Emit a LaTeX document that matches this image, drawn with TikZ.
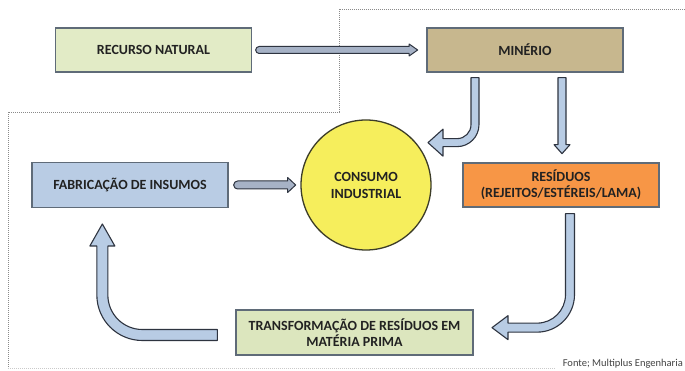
\documentclass[tikz,border=0pt]{standalone}
\usepackage{fontspec}
\setmainfont{Carlito}
\usetikzlibrary{calc}
\definecolor{txt}{HTML}{222222}
\definecolor{boxline}{HTML}{5F6B78}
\definecolor{recfill}{HTML}{E2EBC6}
\definecolor{minfill}{HTML}{C7B78E}
\definecolor{fabfill}{HTML}{B9CCE4}
\definecolor{resfill}{HTML}{F79646}
\definecolor{trafill}{HTML}{DCE6BE}
\definecolor{confill}{HTML}{F6EE5C}
\definecolor{conline}{HTML}{3C3C28}
\definecolor{arrfill}{HTML}{B8CCE4}
\definecolor{arrline}{HTML}{2E3440}
\definecolor{thinfill}{HTML}{A6B2C6}
\definecolor{dotline}{HTML}{8A8A8A}
\tikzset{
  box/.style={draw=boxline, line width=1.3pt, minimum width=196pt, minimum height=44pt,
    inner sep=2pt, align=center, font=\fontsize{14}{16}\selectfont\bfseries, text=txt},
  blk/.style={fill=arrfill, draw=arrline, line width=1.1pt, line join=round},
  thinarr/.style={fill=thinfill, draw=arrline, line width=1pt, line join=round},
  border/.style={draw=dotline, line width=0.9pt, dash pattern=on 1pt off 1pt},
}
\begin{document}
\begin{tikzpicture}[x=1pt,y=-1pt]
\useasboundingbox (0,0) rectangle (685,371);
\fill[white] (0,0) rectangle (685,371);
% dotted frame
\draw[border] (685,9) -- (339,9) -- (339,112) -- (8,112) -- (8,368);
\draw[border, draw=dotline!45] (8,368) -- (555,368);

% nodes
\node[box, fill=recfill] (rec) at (153.5,50) {RECURSO NATURAL};
\node[box, fill=minfill] (min) at (525,50) {MINÉRIO};
\node[box, fill=fabfill, minimum height=45pt] (fab) at (130,185) {FABRICAÇÃO DE INSUMOS};
\node[box, fill=resfill] (res) at (561,185) {RESÍDUOS\\(REJEITOS/ESTÉREIS/LAMA)};
\node[box, fill=trafill, minimum width=237pt, minimum height=45pt] (tra) at (354.5,332.5) {TRANSFORMAÇÃO DE RESÍDUOS EM\\MATÉRIA PRIMA};
\node[circle, draw=conline, fill=confill, line width=1.3pt, minimum size=130pt, inner sep=0pt,
  align=center, font=\fontsize{14}{17}\selectfont\bfseries, text=txt] (con) at (366,185) {CONSUMO\\INDUSTRIAL};
\node[anchor=south east, inner sep=1pt, font=\fontsize{10.5}{12}\selectfont, text=txt!85] (fonte) at (684,370) {Fonte; Multiplus Engenharia};

% connector start points
\coordinate (a1s) at ($(rec.east)+(7,0)$);
\coordinate (a2s) at ($(fab.east)+(9,0)$);
\coordinate (a3s) at ($(min.south)+(-50,5)$);
\coordinate (a4s) at ($(min.south)+(37,5)$);
\coordinate (a5s) at ($(res.south)+(9,6)$);
\coordinate (a6s) at ($(tra.west)+(-18,2.5)$);

% rec -> min
\draw[thinarr] (a1s) ++(0,-3.5) -- ++(150,0) -- ++(0,-2.5) -- ++(8.5,6) -- ++(-8.5,6) -- ++(0,-2.5) -- ++(-150,0)
  arc[start angle=90, end angle=270, radius=3.5] -- cycle;
% fab -> con
\draw[thinarr] (a2s) ++(0,-4) -- ++(50,0) -- ++(0,-3.5) -- ++(8,7.5) -- ++(-8,7.5) -- ++(0,-3.5) -- ++(-50,0)
  arc[start angle=90, end angle=270, radius=4] -- cycle;
% min -> con (bent)
\draw[blk] (a3s) ++(-4,0) -- ++(8,0) -- ++(0,47) arc[start angle=0, end angle=90, radius=22]
  -- ++(-14,0) -- ++(0,9.5) -- ++(-15,-13.5) -- ++(15,-13.5) -- ++(0,9.5) -- ++(14,0)
  arc[start angle=90, end angle=0, radius=14] -- cycle;
% min -> res
\draw[blk] (a4s) ++(-4,0) -- ++(8,0) -- ++(0,67) -- ++(4,0) -- ++(-8,9) -- ++(-8,-9) -- ++(4,0) -- cycle;
% res -> tra (bent)
\draw[blk] (a5s) ++(-4.5,0) -- ++(9,0) -- ++(0,81) arc[start angle=0, end angle=90, radius=37.5]
  -- ++(-29,0) -- ++(0,7.5) -- ++(-16,-12) -- ++(16,-12) -- ++(0,7.5) -- ++(29,0)
  arc[start angle=90, end angle=0, radius=28.5] -- cycle;
% tra -> fab (bent)
\draw[blk] (a6s) ++(0,-5.5) -- ++(0,11) -- ++(-75,0) arc[start angle=90, end angle=180, radius=45.5]
  -- ++(0,-49) -- ++(-7,0) -- ++(12.5,-22) -- ++(12.5,22) -- ++(-7,0) -- ++(0,49)
  arc[start angle=180, end angle=90, radius=34.5] -- cycle;
\end{tikzpicture}
\end{document}
